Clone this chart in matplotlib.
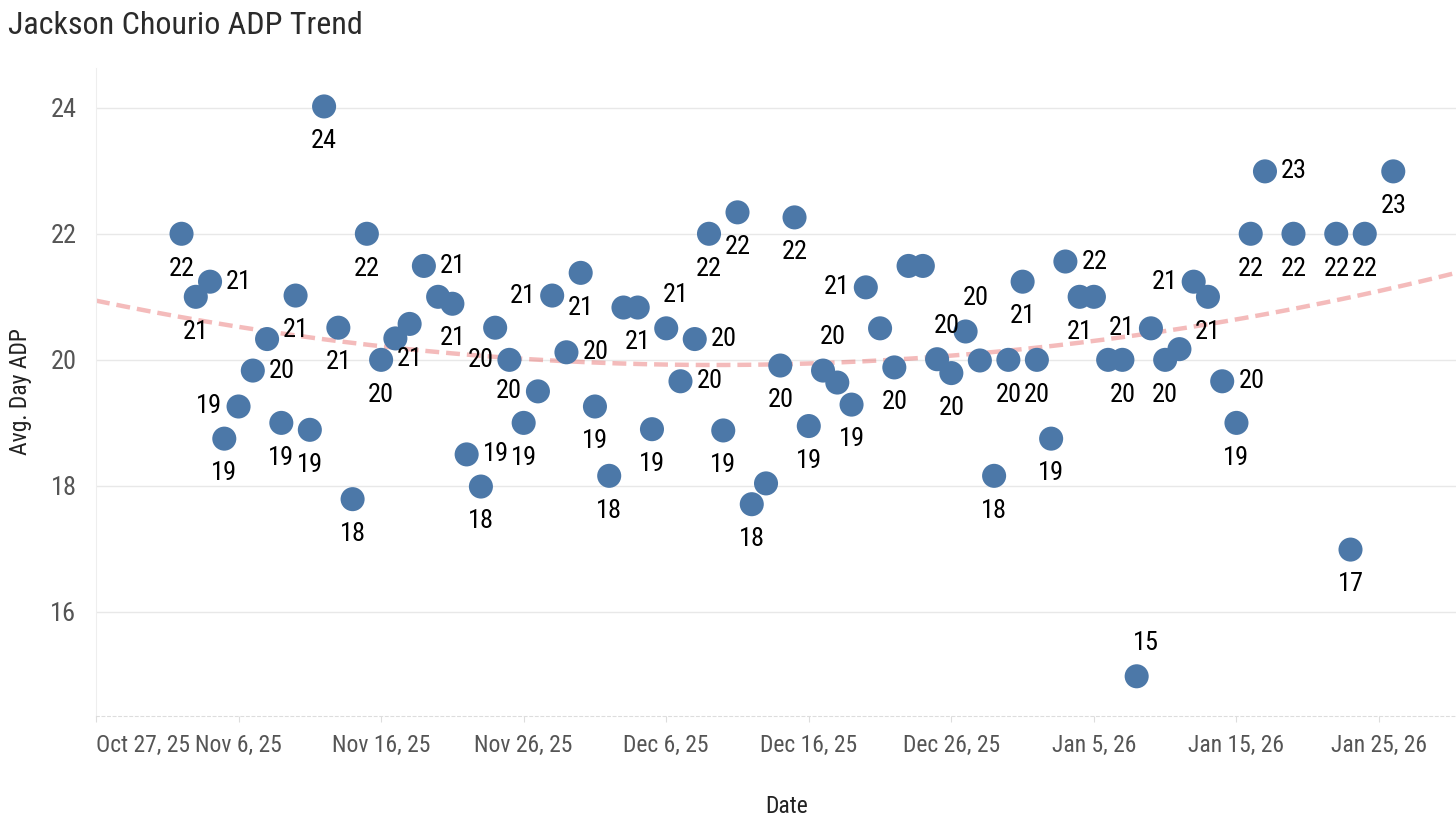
import numpy as np
import pandas as pd
import matplotlib
matplotlib.use('Agg')
import matplotlib.pyplot as plt
from matplotlib import font_manager

# ADP by day
dates = (
    ['2025-11-%02d' % d for d in range(2, 31)]
    + ['2025-12-%02d' % d for d in range(1, 32)]
    + ['2026-01-%02d' % d for d in range(1, 18)]
    + ['2026-01-19', '2026-01-22', '2026-01-23', '2026-01-24', '2026-01-26']
)
adp = [
    # Nov 2 - Nov 30
    22.0, 21.0, 21.24, 18.75, 19.26, 19.83, 20.33, 19.0, 21.02, 18.89,
    24.02, 20.51, 17.79, 22.0, 20.0, 20.34, 20.57, 21.49, 21.0, 20.89,
    18.5, 17.99, 20.51, 20.0, 19.0, 19.5, 21.02, 20.12, 21.38,
    # Dec 1 - Dec 31
    19.26, 18.16, 20.83, 20.83, 18.9, 20.5, 19.66, 20.33, 22.0, 18.88,
    22.34, 17.71, 18.04, 19.91, 22.26, 18.95, 19.83, 19.64, 19.29, 21.15,
    20.5, 19.88, 21.49, 21.49, 20.01, 19.79, 20.45, 19.99, 18.16, 20.0, 21.24,
    # Jan 1 - Jan 17
    20.0, 18.75, 21.56, 21.0, 21.0, 20.0, 20.0, 14.98, 20.5, 20.0,
    20.17, 21.24, 21.0, 19.66, 19.0, 22.0, 22.99,
    # Jan 19 - Jan 26
    22.0, 22.0, 16.99, 22.0, 22.99,
]
# where each value label sits: b below, r right, l left, t above, - hidden
label_side = list(
    'bbrblr-bbbbbbbb-br-brb-lbllrb'      # Nov
    'bb-bbtrrbbbb-bbbt-bl-b--tbt-bbb'    # Dec
    'bbrb--btlb-lbrbbr'                  # Jan 1-17
    'bbbbb'
)

names = {f.name for f in font_manager.fontManager.ttflist}
font = 'DejaVu Sans'
for cand in ['Roboto Condensed', 'Liberation Sans Narrow', 'Open Sans Condensed']:
    if cand in names:
        font = cand
        break
plt.rcParams['font.family'] = font
plt.rcParams['font.stretch'] = 'condensed'
plt.rcParams['lines.scale_dashes'] = False

x = pd.to_datetime(dates)
y = np.array(adp)
start = pd.Timestamp('2025-10-27')
end = start + pd.Timedelta(days=95.4)

fig = plt.figure(figsize=(14.56, 8.18), dpi=100)
ax = fig.add_axes([96/1456, 102/818, 1360/1456, 648/818])

# quadratic trend across the whole axis
days = (x - start).days.values
coef = np.polyfit(days, y, 2)
tx = np.linspace(0, 95.4, 200)
ax.plot(start + pd.to_timedelta(tx, unit='D'), np.polyval(coef, tx),
        color='#e45756', alpha=0.4, lw=3.2, dashes=(10, 5), zorder=2)

ax.scatter(x, y, s=300, color='#4c78a8', edgecolors='none', zorder=3)

offsets = {'b': (0, -25), 't': (7, 24), 'r': (21, 0), 'l': (-21, 0)}
for xi, yi, side in zip(x, y, label_side):
    if side == '-':
        continue
    ax.annotate('%d' % np.floor(yi + 0.5), (xi, yi), xytext=offsets[side],
                textcoords='offset points', ha='center', va='center',
                fontsize=19, color='black', zorder=4)

ax.set_xlim(start, end)
ax.set_ylim(14.35, 24.63)
ax.set_yticks([16, 18, 20, 22, 24])
ticks = pd.date_range(start, periods=10, freq='10D')
ax.set_xticks(ticks)
ax.set_xticklabels([t.strftime('%b %-d, %y') for t in ticks])
ax.get_xticklabels()[0].set_ha('left')

ax.grid(axis='y', color='#e8e8e8', lw=1)
ax.set_axisbelow(True)
ax.tick_params(axis='y', length=0, pad=14, labelsize=19, labelcolor='#555555')
ax.tick_params(axis='x', length=4, width=0.8, color='#dddddd', pad=9,
               labelsize=17, labelcolor='#555555')
for s in ['top', 'right']:
    ax.spines[s].set_visible(False)
ax.spines['left'].set_color('#eeeeee')
ax.spines['bottom'].set_color('#dddddd')
ax.spines['bottom'].set_linestyle((0, (2, 2)))

ax.set_ylabel('Avg. Day ADP', fontsize=17, color='#222222')
ax.yaxis.set_label_coords(-(96 - 32)/1360, 0.5)
ax.set_xlabel('Date', fontsize=17, color='#222222')
ax.xaxis.set_label_coords((787 - 96)/1360, -(795 - 716)/648)

fig.text(8/1456, 1 - 26/818, 'Jackson Chourio ADP Trend', ha='left', va='center',
         fontsize=23, color='#2b2b2b')

fig.savefig('out.png', dpi=100, facecolor='white')
